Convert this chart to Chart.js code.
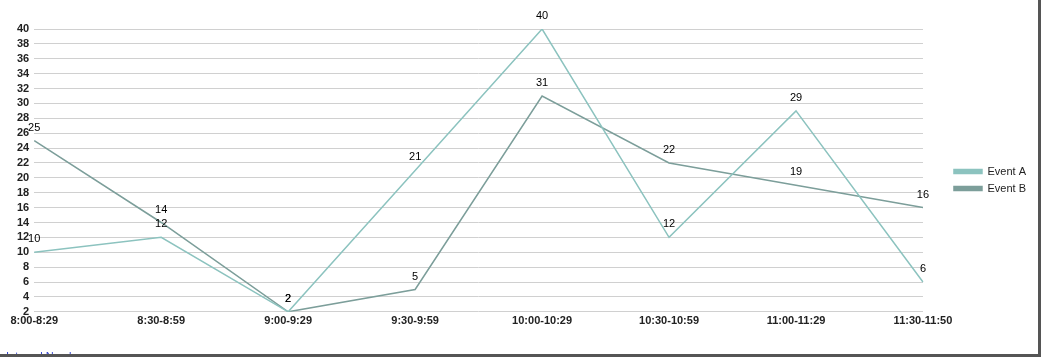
<!DOCTYPE html>
<html>
<head>
<meta charset="utf-8">
<script src="https://cdn.jsdelivr.net/npm/chart.js@4/dist/chart.umd.min.js"></script>
<style>
  body { margin: 0; background: #fff; }
  #wrap {
    position: relative;
    width: 1038px; height: 354px;
    border-right: 3px solid #555;
    border-bottom: 3px solid #555;
    overflow: hidden;
  }
  #note {
    position: absolute; left: 6px; top: 350px;
    font: 11px Arial, sans-serif; color: #3344cc;
  }
</style>
</head>
<body>
<div id="wrap">
  <canvas id="chart"></canvas>
  <div id="note">Internal Number</div>
</div>
<script>
var timeSlots = ["8:00-8:29", "8:30-8:59", "9:00-9:29", "9:30-9:59",
                 "10:00-10:29", "10:30-10:59", "11:00-11:29", "11:30-11:50"];
var eventA = [10, 12, 2, 21, 40, 12, 29, 6];
var eventB = [25, 14, 2, 5, 31, 22, 19, 16];
var yMin = 2, yMax = 40, yStep = 2;

// draws the value above each point
var valueLabels = {
  id: "valueLabels",
  afterDatasetsDraw: function (chart) {
    var ctx = chart.ctx;
    ctx.save();
    ctx.font = "11px Arial";
    ctx.fillStyle = "#000";
    ctx.textAlign = "center";
    ctx.textBaseline = "middle";
    chart.data.datasets.forEach(function (ds, i) {
      chart.getDatasetMeta(i).data.forEach(function (pt, j) {
        ctx.fillText(ds.data[j], pt.x, pt.y - 13);
      });
    });
    ctx.restore();
  }
};

new Chart(document.getElementById("chart"), {
  type: "line",
  data: {
    labels: timeSlots,
    datasets: [
      {
        label: "Event A",
        data: eventA,
        borderColor: "#8cc3bf",
        backgroundColor: "#8cc3bf",
        borderWidth: 1.5,
        pointRadius: 0,
        fill: false,
      },
      {
        label: "Event B",
        data: eventB,
        borderColor: "#7c9e9a",
        backgroundColor: "#7c9e9a",
        borderWidth: 1.5,
        pointRadius: 0,
        fill: false,
      },
    ],
  },
  options: {
    responsive: true,
    maintainAspectRatio: false,
    animation: false,
    layout: { padding: { left: 12, top: 29, bottom: 23, right: 2 } },
    plugins: {
      legend: {
        position: "right",
        labels: {
          boxWidth: 28,
          boxHeight: 4,
          padding: 6,
          color: "#222",
          font: { family: "Arial", size: 11 },
        },
      },
      tooltip: { enabled: false },
    },
    scales: {
      x: {
        offset: false,
        grid: { display: false, drawTicks: false },
        border: { display: false },
        ticks: {
          color: "#222",
          padding: 3,
          maxRotation: 0,
          autoSkip: false,
          font: { family: "Arial", size: 11, weight: "bold" },
        },
      },
      y: {
        min: yMin,
        max: yMax,
        border: { display: false },
        grid: { color: "#d0d0d0", drawTicks: false },
        ticks: {
          stepSize: yStep,
          autoSkip: false,
          color: "#222",
          padding: 5,
          font: { family: "Arial", size: 11, weight: "bold" },
        },
      },
      // empty right axis, only keeps a gap between plot and legend
      gap: {
        position: "right",
        grid: { display: false },
        border: { display: false },
        ticks: { display: false },
        afterFit: function (s) { s.width = 25; },
      },
    },
  },
  plugins: [valueLabels],
});
</script>
</body>
</html>
